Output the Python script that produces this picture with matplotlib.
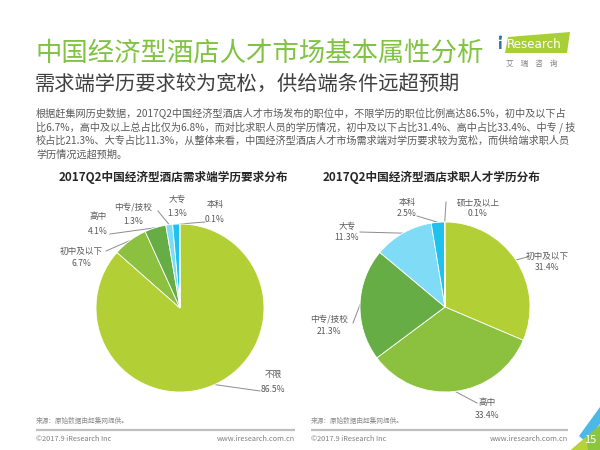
import matplotlib
matplotlib.use('Agg')
import matplotlib.pyplot as plt
import numpy as np
from matplotlib.patches import Polygon, Circle

plt.rcParams['font.family'] = ['Noto Sans CJK SC', 'DejaVu Sans']

# ---------------- data ----------------
demand_labels = ['不限', '初中及以下', '高中', '中专/技校', '大专', '本科']
demand_values = [86.5, 6.7, 4.1, 1.3, 1.3, 0.1]
supply_labels = ['初中及以下', '高中', '中专/技校', '大专', '本科', '硕士及以上']
supply_values = [31.4, 33.4, 21.3, 11.3, 2.5, 0.1]

title = '中国经济型酒店人才市场基本属性分析'
subtitle = '需求端学历要求较为宽松，供给端条件远超预期'
body_lines = [
    '根据赶集网历史数据，2017Q2中国经济型酒店人才市场发布的职位中，不限学历的职位比例高达86.5%，初中及以下占',
    '比6.7%，高中及以上总占比仅为6.8%，而对比求职人员的学历情况，初中及以下占比31.4%、高中占比33.4%、中专 / 技',
    '校占比21.3%、大专占比11.3%，从整体来看，中国经济型酒店人才市场需求端对学历要求较为宽松，而供给端求职人员',
    '学历情况远超预期。',
]
left_title = '2017Q2中国经济型酒店需求端学历要求分布'
right_title = '2017Q2中国经济型酒店求职人才学历分布'
source_text = '来源：原始数据由赶集网提供。'

# ---------------- style / layout ----------------
W, H = 600, 450
slice_colors = ['#b2cf35', '#8cc03f', '#66ad45', '#80dbf6', '#1fc1ee', '#0b8fd0']
GREEN = '#80c241'
TXT = '#595959'
LINE = '#8c8c8c'

fig = plt.figure(figsize=(6, 4.5), dpi=100)
bg = fig.add_axes([0, 0, 1, 1])
bg.set_xlim(0, W)
bg.set_ylim(H, 0)
bg.axis('off')

# headings
bg.text(35, 53, title, color=GREEN, fontsize=19, ha='left', va='center')
bg.text(35, 84, subtitle, color='#404040', fontsize=14.6, ha='left', va='center')
for i, ln in enumerate(body_lines):
    bg.text(36, 113 + i * 14, ln, color=TXT, fontsize=7.3, ha='left', va='center')

bg.text(173, 177, left_title, color='#262626', fontsize=8.4, fontweight='bold',
        ha='center', va='center')
bg.text(432, 177, right_title, color='#262626', fontsize=8.4, fontweight='bold',
        ha='center', va='center')

# logo
bg.add_patch(Polygon([(505, 53), (508, 37), (570, 32), (567, 53)], closed=True,
                     facecolor='#a9cf38', edgecolor='none'))
bg.text(498, 45, 'i', color='#2f6f9f', fontsize=10, ha='left', va='center',
        family='DejaVu Sans', fontweight='bold')
bg.add_patch(Circle((500.5, 37.0), 1.5, facecolor='#1b75bc', edgecolor='none'))
bg.text(507, 45, 'Research', color='white', fontsize=8.6, ha='left', va='center',
        family='DejaVu Sans')
bg.text(532, 64, '艾    瑞    咨    询', color='#7f7f7f', fontsize=5.5, ha='center', va='center')

# footers
for x0, x1 in [(36, 295), (311, 568)]:
    bg.text(x0, 421, source_text, color='#8c8c8c', fontsize=4.8, ha='left', va='center')
    bg.plot([x0, x1], [430, 430], color='#bfbfbf', lw=1.6, solid_capstyle='butt')
    bg.text(x0, 439, '©2017.9 iResearch Inc', color='#7f7f7f', fontsize=5.3,
            ha='left', va='center')
    bg.text(x1, 439, 'www.iresearch.com.cn', color='#7f7f7f', fontsize=5.3,
            ha='right', va='center')

# page corner
bg.add_patch(Polygon([(579, 436), (600, 407), (600, 424), (586, 442)], closed=True,
                     facecolor='#4cb8e8', edgecolor='none'))
bg.add_patch(Polygon([(571, 450), (600, 425), (600, 450)], closed=True,
                     facecolor='#8cc63f', edgecolor='none'))
bg.add_patch(Polygon([(571, 450), (586, 437), (588, 450)], closed=True,
                     facecolor='#b8d432', edgecolor='none'))
bg.text(590, 440, '15', color='white', fontsize=8, ha='center', va='center')


def make_pie(cx, cy, R, values, labels, label_pos, line_ends):
    ax = fig.add_axes([(cx - R) / W, (H - cy - R) / H, 2 * R / W, 2 * R / H])
    wedges, _ = ax.pie(values, colors=slice_colors, startangle=90, counterclock=False,
                       radius=1, wedgeprops=dict(edgecolor='white', linewidth=0.6))
    ax.set_xlim(-1, 1)
    ax.set_ylim(-1, 1)
    ax.axis('off')
    for w, lab, v, pos, end in zip(wedges, labels, values, label_pos, line_ends):
        mid = np.deg2rad((w.theta1 + w.theta2) / 2)
        ex, ey = cx + R * np.cos(mid), cy - R * np.sin(mid)
        if end is not None:
            bg.plot([ex, end[0]], [ey, end[1]], color=LINE, lw=0.7)
        x, y1, y2 = pos
        bg.text(x, y1, lab, color=TXT, fontsize=6.2, ha='center', va='center')
        bg.text(x, y2, f'{v:.1f}%', color=TXT, fontsize=6.2, ha='center', va='center')


# label layout (pixel positions: x, name y, value y) and leader line ends
left_pos = [(273, 375, 389), (81, 251, 264), (98, 217, 231), (133, 207, 221),
            (177, 200, 214), (215, 205, 219)]
left_ends = [(260, 391), (106, 251), (110, 234), (158, 211), None, (205, 222)]
right_pos = [(547, 256, 268), (487, 403, 415), (329, 319, 331), (347, 227, 238),
             (407, 202, 213), (478, 203, 214)]
right_ends = [(527, 257), (477, 403), (353, 323), (360, 232), (417, 216), (446, 202)]

make_pie(180, 308, 84, demand_values, demand_labels, left_pos, left_ends)
make_pie(445, 307, 85, supply_values, supply_labels, right_pos, right_ends)

fig.savefig('out.png', dpi=100)
